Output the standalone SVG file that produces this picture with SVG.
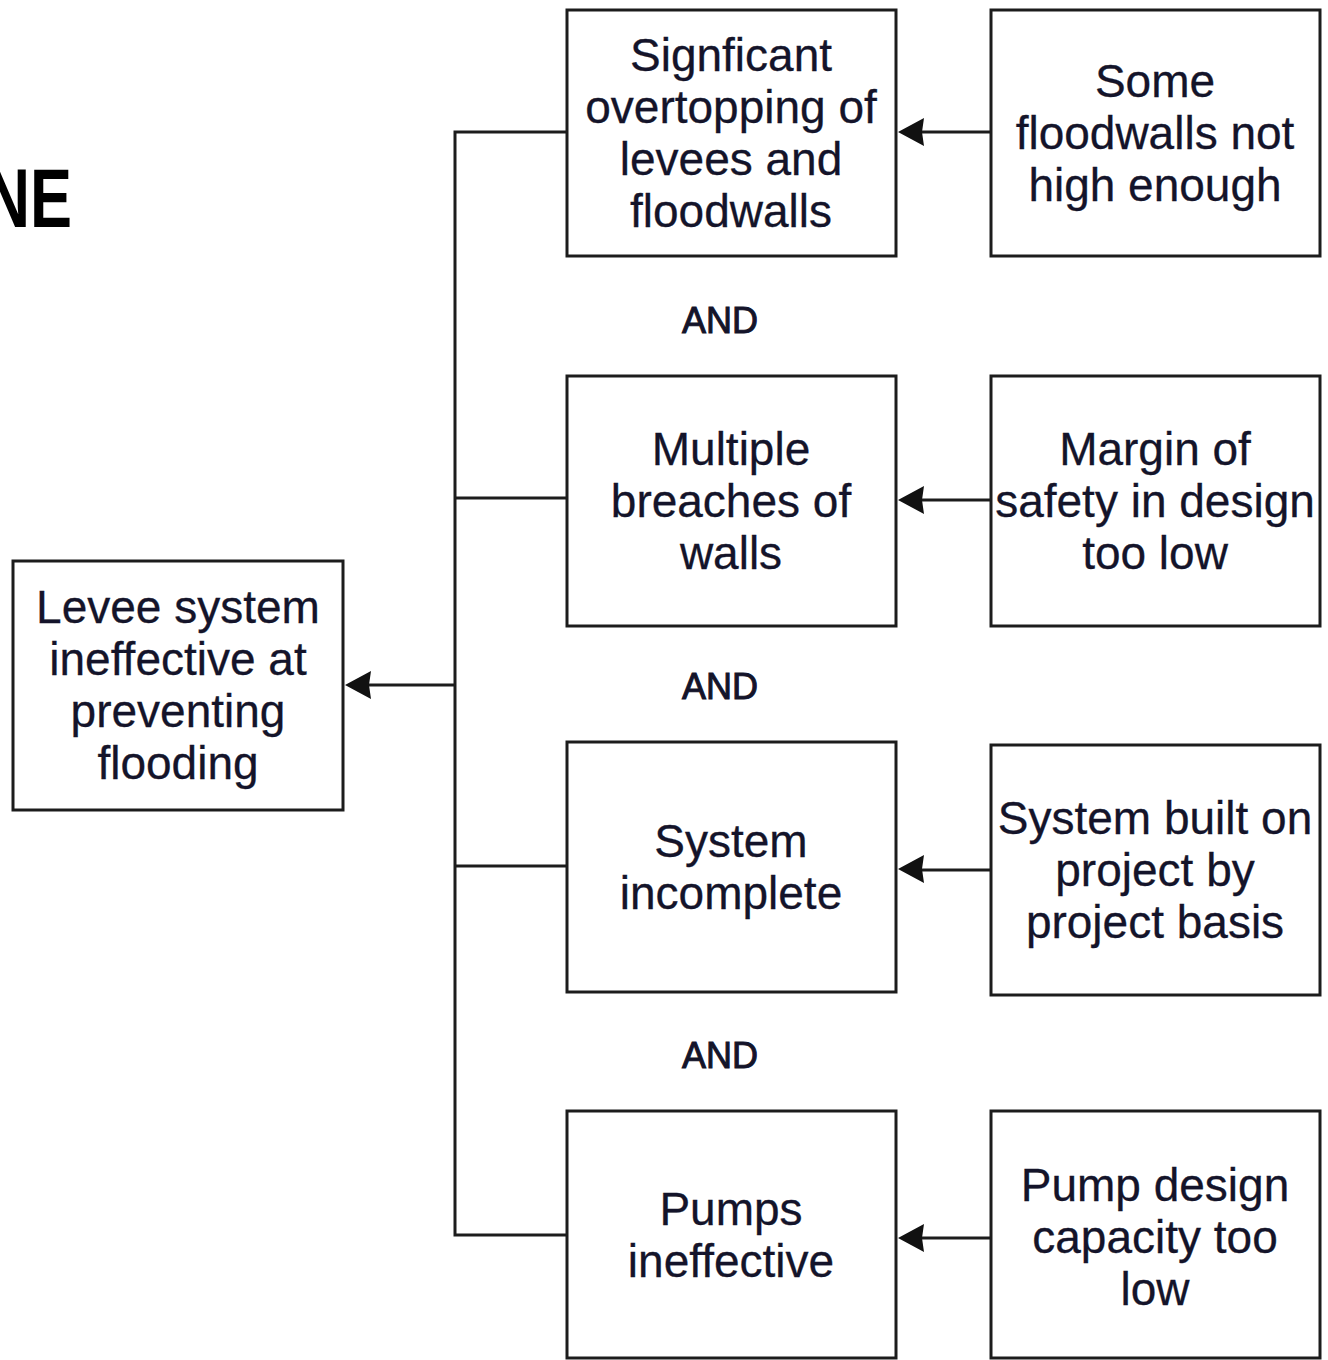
<svg xmlns="http://www.w3.org/2000/svg" width="1328" height="1360" viewBox="0 0 1328 1360">
  <style>
    .box { fill: #ffffff; stroke: #1c1c1c; stroke-width: 3; }
    .lbl { font-family: "Liberation Sans", Arial, sans-serif; font-size: 46px; fill: #14142a; text-anchor: middle; stroke: #14142a; stroke-width: 0.3; }
    .and { font-family: "Liberation Sans", Arial, sans-serif; font-size: 36px; fill: #14142a; text-anchor: middle; stroke: #14142a; stroke-width: 1; }
    .wire { fill: none; stroke: #1c1c1c; stroke-width: 3; }
    .head { fill: #111111; }
  </style>
  <defs>
    <!-- arrowhead pointing left, tip at origin -->
    <path id="tipL" d="M0 0 L26 -14 L24 0 L26 14 Z"/>
  </defs>
  <rect width="1328" height="1360" fill="#ffffff"/>

  <!-- title fragment running in from the left edge -->
  <text x="96" y="227" transform="scale(0.75 1)" font-family="'Liberation Sans', Arial, sans-serif" font-size="84" font-weight="bold" fill="#000" text-anchor="end">NE</text>

  <!-- connectors -->
  <g id="connectors">
    <path class="wire" d="M567 132 H455 V1235 H567 M455 498 H567 M455 866 H567 M455 685 H368"/>
    <path class="wire" d="M991 132 H918 M991 500 H918 M991 870 H918 M991 1238 H918"/>
    <use href="#tipL" class="head" x="345" y="685"/>
    <use href="#tipL" class="head" x="898" y="132"/>
    <use href="#tipL" class="head" x="898" y="500"/>
    <use href="#tipL" class="head" x="898" y="869"/>
    <use href="#tipL" class="head" x="898" y="1238"/>
  </g>

  <g id="top-event">
    <rect class="box" x="13" y="561" width="330" height="249"/>
    <text class="lbl" x="178" y="623">Levee system<tspan x="178" dy="52">ineffective at</tspan><tspan x="178" dy="52">preventing</tspan><tspan x="178" dy="52">flooding</tspan></text>
  </g>

  <g id="overtopping">
    <rect class="box" x="567" y="10" width="329" height="246"/>
    <text class="lbl" x="731" y="71">Signficant<tspan x="731" dy="52">overtopping of</tspan><tspan x="731" dy="52">levees and</tspan><tspan x="731" dy="52">floodwalls</tspan></text>
  </g>

  <g id="breaches">
    <rect class="box" x="567" y="376" width="329" height="250"/>
    <text class="lbl" x="731" y="465">Multiple<tspan x="731" dy="52">breaches of</tspan><tspan x="731" dy="52">walls</tspan></text>
  </g>

  <g id="incomplete">
    <rect class="box" x="567" y="742" width="329" height="250"/>
    <text class="lbl" x="731" y="857">System<tspan x="731" dy="52">incomplete</tspan></text>
  </g>

  <g id="pumps">
    <rect class="box" x="567" y="1111" width="329" height="247"/>
    <text class="lbl" x="731" y="1225">Pumps<tspan x="731" dy="52">ineffective</tspan></text>
  </g>

  <g id="floodwall-height">
    <rect class="box" x="991" y="10" width="329" height="246"/>
    <text class="lbl" x="1155" y="97">Some<tspan x="1155" dy="52">floodwalls not</tspan><tspan x="1155" dy="52">high enough</tspan></text>
  </g>

  <g id="safety-margin">
    <rect class="box" x="991" y="376" width="329" height="250"/>
    <text class="lbl" x="1155" y="465">Margin of<tspan x="1155" dy="52">safety in design</tspan><tspan x="1155" dy="52">too low</tspan></text>
  </g>

  <g id="piecemeal">
    <rect class="box" x="991" y="745" width="329" height="250"/>
    <text class="lbl" x="1155" y="834">System built on<tspan x="1155" dy="52">project by</tspan><tspan x="1155" dy="52">project basis</tspan></text>
  </g>

  <g id="pump-capacity">
    <rect class="box" x="991" y="1111" width="329" height="247"/>
    <text class="lbl" x="1155" y="1201">Pump design<tspan x="1155" dy="52">capacity too</tspan><tspan x="1155" dy="52">low</tspan></text>
  </g>

  <g id="gates">
    <text class="and" x="720" y="333">AND</text>
    <text class="and" x="720" y="699">AND</text>
    <text class="and" x="720" y="1068">AND</text>
  </g>
</svg>
